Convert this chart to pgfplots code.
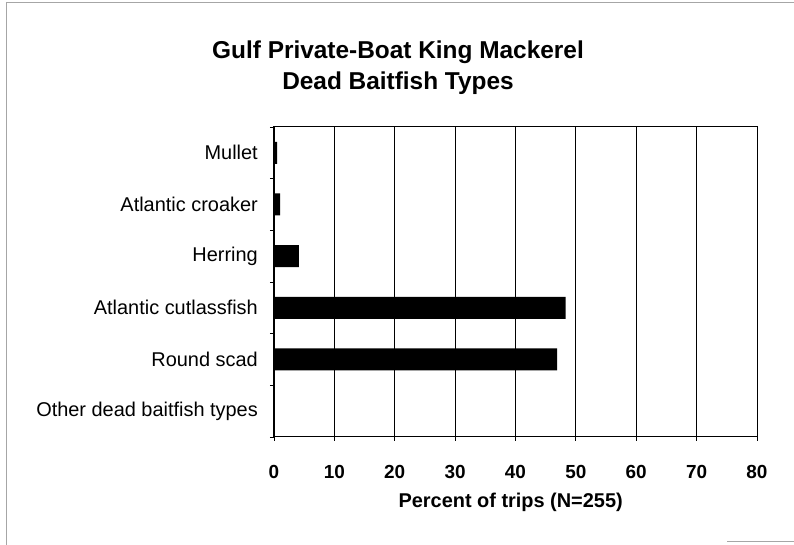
\documentclass[border=0pt]{standalone}
\usepackage{fontspec}
\setmainfont{Liberation Sans}
\usepackage{pgfplots}
\usepackage{pgfplotstable}
\pgfplotsset{compat=1.18}
\pgfplotstableread{
y val
5 0.5
4 1.0
3 4.1
2 48.3
1 46.9
0 0
}\datatable
\begin{document}
\begin{tikzpicture}[x=1bp,y=1bp]
\path[use as bounding box] (-274,-108) rectangle (520,437);
\draw[gray!70, line width=0.6bp] (-268,435) -- (520,435);
\draw[gray!70, line width=0.6bp] (-268,435) -- (-268,-108);
\draw[gray!70, line width=0.6bp] (453,-104) -- (520,-104);
\node[font=\fontsize{24.5}{29}\selectfont\bfseries] at (124,385) {Gulf Private-Boat King Mackerel};
\node[font=\fontsize{24.5}{29}\selectfont\bfseries] at (124,354) {Dead Baitfish Types};
\begin{axis}[at={(0,0)}, anchor=south west, scale only axis,
  width=483bp, height=310bp,
  xbar, bar width=22bp,
  xmin=0, xmax=80, ymin=-0.5, ymax=5.5,
  xtick={0,10,...,80},
  ytick={-0.5,0.5,...,5.5}, yticklabels={},
  extra y ticks={0,1,2,3,4,5},
  extra y tick labels={Other dead baitfish types, Round scad, Atlantic cutlassfish, Herring, Atlantic croaker, Mullet},
  extra y tick style={major tick length=0pt, grid=none},
  tick align=outside, major tick length=4bp,
  xtick pos=bottom, ytick pos=left,
  xmajorgrids=true, ymajorgrids=false,
  grid style={black, line width=0.9bp},
  axis line style={black, line width=1bp},
  tick style={black, line width=0.8bp},
  /pgf/number format/assume math mode=true,
  xticklabel style={font=\fontsize{19}{22}\selectfont\bfseries, anchor=center, inner sep=0pt, yshift=-31bp},
  yticklabel style={font=\fontsize{20}{24}\selectfont, anchor=east, inner sep=0pt, xshift=-16bp},
  xlabel={Percent of trips (N=255)},
  xlabel style={font=\fontsize{20}{24}\selectfont\bfseries, at={(axis description cs:0.49,0)}, anchor=center, yshift=-65bp},
]
\addplot[fill=black, draw=none] table[x=val, y=y]{\datatable};
\end{axis}
\end{tikzpicture}
\end{document}
